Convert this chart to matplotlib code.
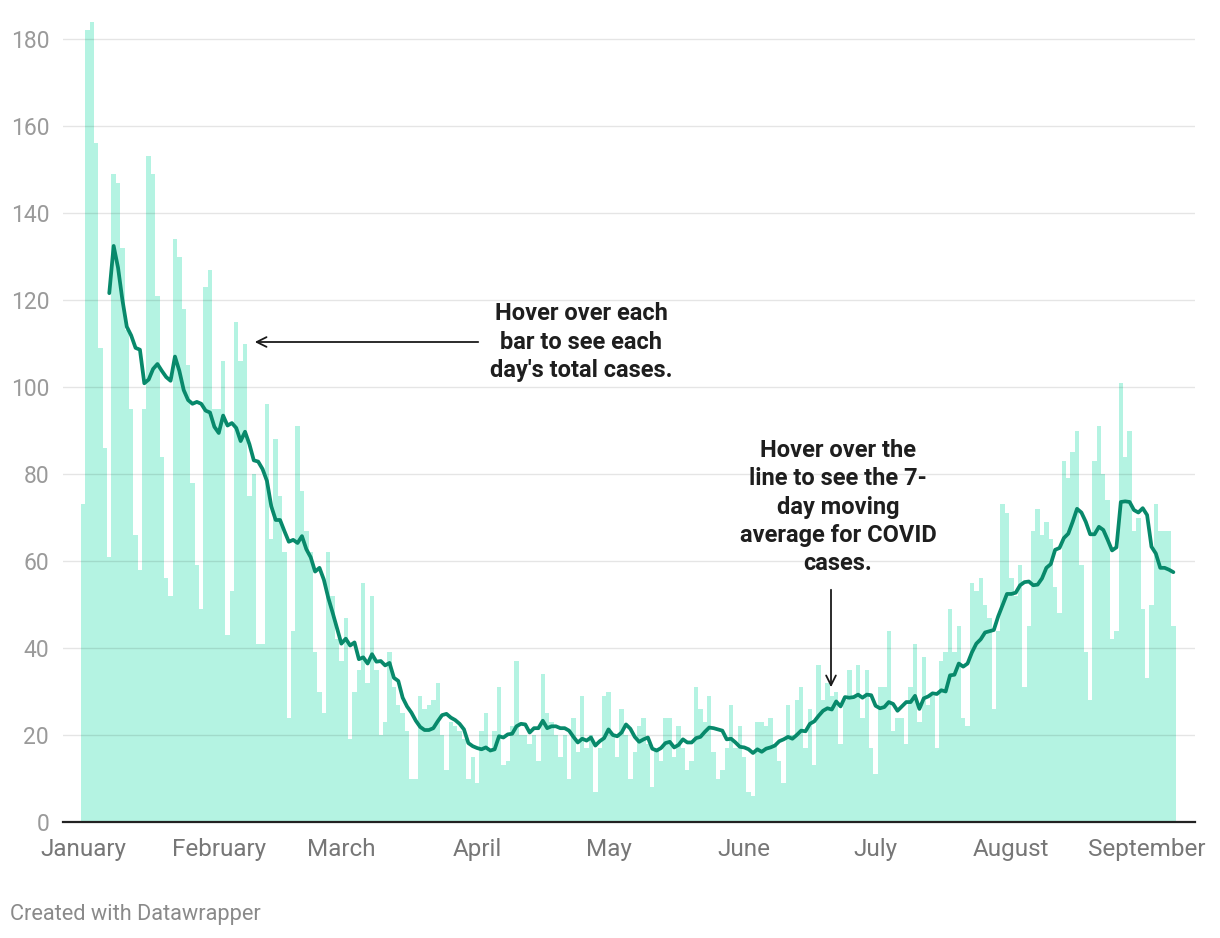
import numpy as np
import pandas as pd
import matplotlib
matplotlib.use("Agg")
import matplotlib.pyplot as plt

# daily COVID cases, one list per month
jan = [73, 182, 184, 156, 109, 86, 61, 149, 147, 132, 113, 95, 66, 58, 95, 153,
       149, 121, 84, 56, 52, 134, 130, 118, 105, 78, 59, 49, 123, 127, 95]
feb = [95, 106, 43, 53, 115, 106, 110, 75, 80, 41, 41, 96, 65, 88,
       75, 62, 24, 44, 91, 76, 67, 62, 39, 30, 25, 62, 52, 42]
mar = [37, 47, 19, 30, 35, 55, 32, 52, 35, 20, 23, 39, 31, 27, 25, 21,
       10, 10, 29, 26, 27, 28, 32, 20, 12, 23, 22, 21, 19, 10, 15]
apr = [9, 21, 25, 16, 21, 31, 13, 14, 22, 37, 20, 20, 18, 20, 14, 34,
       25, 23, 20, 15, 20, 10, 24, 16, 29, 17, 20, 7, 17, 29]
may = [30, 20, 15, 26, 20, 10, 16, 22, 24, 18, 8, 17, 14, 24, 24, 15,
       22, 17, 12, 14, 31, 26, 23, 29, 16, 10, 12, 17, 27, 17, 22]
jun = [15, 7, 6, 23, 23, 22, 24, 18, 14, 9, 27, 20, 28, 31, 17, 26,
       13, 36, 28, 32, 29, 30, 18, 28, 35, 29, 36, 24, 35, 17]
jul = [11, 31, 31, 44, 21, 24, 24, 18, 31, 41, 23, 38, 27, 29, 17, 37,
       39, 49, 39, 45, 24, 22, 55, 53, 56, 50, 47, 26, 44, 73, 71]
aug = [56, 52, 59, 31, 45, 67, 72, 66, 69, 65, 54, 48, 83, 79, 85, 90,
       59, 39, 28, 83, 91, 80, 74, 42, 44, 101, 84, 90, 67, 70, 49]
sep = [33, 50, 73, 67, 67, 67, 45]

month_names = ["January", "February", "March", "April", "May", "June",
               "July", "August", "September"]
month_days = [31, 28, 31, 30, 31, 30, 31, 31, 30]

cases = pd.Series(jan + feb + mar + apr + may + jun + jul + aug + sep)
avg7 = cases.rolling(7).mean()
days = np.arange(len(cases))
month_starts = np.concatenate([[0], np.cumsum(month_days[:-1])])

plt.rcParams["font.family"] = ["Roboto", "DejaVu Sans"]

W, H = 1220, 938
fig = plt.figure(figsize=(W / 100, H / 100), dpi=100)
ax = fig.add_axes([63 / W, 1 - 822 / H, (1195 - 63) / W, (822 - 20) / H])

# ---------------------------------------------------------
# bars + 7-day average
# ---------------------------------------------------------
ax.bar(days, cases, width=1.0, color="#b4f3e2", linewidth=0, zorder=1)
ax.plot(days, avg7, color="#08896b", lw=2.7, solid_capstyle="round",
        solid_joinstyle="round", zorder=3)

px_per_day = 4.379
ax.set_xlim(-(83 - 63) / px_per_day, (1195 - 83) / px_per_day)
ax.set_ylim(0, (822 - 20) / 4.35)

ax.set_yticks(range(0, 181, 20))
ax.set_xticks(month_starts)
ax.set_xticklabels(month_names)
ax.grid(axis="y", color="black", alpha=0.1, lw=1)
ax.set_axisbelow(False)

for side in ["top", "right", "left"]:
    ax.spines[side].set_visible(False)
ax.spines["bottom"].set_color("#222222")
ax.spines["bottom"].set_linewidth(1.6)
ax.spines["bottom"].set_zorder(4)

ax.tick_params(axis="y", length=0, pad=10, labelsize=16.5, labelcolor="#9a9a9a")
ax.tick_params(axis="x", length=0, pad=11.5, labelsize=17.5, labelcolor="#777777")

# ---------------------------------------------------------
# annotations
# ---------------------------------------------------------
def dx(px):
    return (px - 83) / px_per_day


def dy(py):
    return (822 - py) / 4.35


ax.annotate("", xy=(dx(252), dy(342)), xytext=(dx(481), dy(342)),
            arrowprops=dict(arrowstyle="->,head_length=0.7,head_width=0.35",
                            color="#1a1a1a", lw=1.3), zorder=5)
ax.text(dx(581), dy(342), "Hover over each\nbar to see each\nday's total cases.",
        ha="center", va="center", fontsize=17, fontweight="bold",
        color="#1e1e1e", linespacing=1.28, zorder=5)

ax.annotate("", xy=(dx(831), dy(690)), xytext=(dx(831), dy(587)),
            arrowprops=dict(arrowstyle="->,head_length=0.7,head_width=0.35",
                            color="#1a1a1a", lw=1.3), zorder=5)
ax.text(dx(838), dy(507), "Hover over the\nline to see the 7-\nday moving\naverage for COVID\ncases.",
        ha="center", va="center", fontsize=17, fontweight="bold",
        color="#1e1e1e", linespacing=1.28, zorder=5)

fig.text(10 / W, 1 - 914 / H, "Created with Datawrapper", fontsize=15.7,
         color="#8a8a8a", va="center", ha="left")

fig.savefig("out.png", dpi=100)
